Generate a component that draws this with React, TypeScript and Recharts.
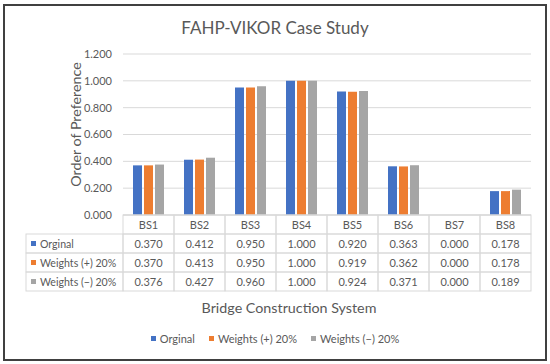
import { BarChart, Bar, XAxis, YAxis, CartesianGrid, Legend } from "recharts";

const categories = ["BS1", "BS2", "BS3", "BS4", "BS5", "BS6", "BS7", "BS8"];
const original = [0.37, 0.412, 0.95, 1.0, 0.92, 0.363, 0.0, 0.178];
const weightsPlus = [0.37, 0.413, 0.95, 1.0, 0.919, 0.362, 0.0, 0.178];
const weightsMinus = [0.376, 0.427, 0.96, 1.0, 0.924, 0.371, 0.0, 0.189];
const seriesNames = ["Orginal", "Weights (+) 20%", "Weights (\u2212) 20%"];
const seriesKeys = ["original", "plus", "minus"];
const seriesColors = ["#4472C4", "#ED7D31", "#A5A5A5"];
const yTicks = [0, 0.2, 0.4, 0.6, 0.8, 1.0, 1.2];

const data = categories.map((name, i) => ({
  name,
  original: original[i],
  plus: weightsPlus[i],
  minus: weightsMinus[i],
}));

const W = 550;
const H = 364;
const FONT = "Lato, sans-serif";
const TEXT = "#595959";
const LINE = "#D9D9D9";
const FS = 11;
const MARGIN = { top: 54, right: 19, bottom: 73, left: 63 };
const Y_W = 60;
const ROW_H = 19;
const TABLE_LEFT = 26;
const COL_W = (W - MARGIN.left - Y_W - MARGIN.right) / categories.length;

// header row of the data table: category names
function HeaderTick(props: any) {
  const { x, y, payload } = props;
  return (
    <g>
      <rect x={x - COL_W / 2} y={y} width={COL_W} height={ROW_H} fill="none" stroke={LINE} />
      <text x={x} y={y + ROW_H / 2} textAnchor="middle" dominantBaseline="central" fontSize={FS} fill={TEXT}>
        {payload.value}
      </text>
    </g>
  );
}

// one data row of the table, with its series key in the first cell
function RowTick(props: any) {
  const { x, y, index, row } = props;
  const value = (data[index] as any)[seriesKeys[row]] as number;
  const left = x - COL_W / 2;
  return (
    <g>
      {index === 0 && (
        <g>
          <rect x={TABLE_LEFT} y={y} width={left - TABLE_LEFT} height={ROW_H} fill="none" stroke={LINE} />
          <rect x={TABLE_LEFT + 5} y={y + ROW_H / 2 - 2.5} width={5} height={5} fill={seriesColors[row]} />
          <text x={TABLE_LEFT + 14} y={y + ROW_H / 2} dominantBaseline="central" fontSize={10.6} fill={TEXT}>
            {seriesNames[row]}
          </text>
        </g>
      )}
      <rect x={left} y={y} width={COL_W} height={ROW_H} fill="none" stroke={LINE} />
      <text x={x} y={y + ROW_H / 2} textAnchor="middle" dominantBaseline="central" fontSize={FS} fill={TEXT}>
        {value.toFixed(3)}
      </text>
    </g>
  );
}

function LegendContent(props: any) {
  const { payload } = props;
  return (
    <div style={{ display: "flex", justifyContent: "center", fontFamily: FONT, fontSize: FS, color: TEXT }}>
      {(payload || []).map((p: any) => (
        <div key={p.value} style={{ display: "flex", alignItems: "center", margin: "0 7px" }}>
          <span style={{ width: 5, height: 5, background: p.color, marginRight: 4, display: "inline-block" }} />
          <span>{p.value}</span>
        </div>
      ))}
    </div>
  );
}

export default function App() {
  return (
    <div style={{ position: "absolute", left: 0, top: 0, width: W, height: H, background: "#fff" }}>
      <div
        style={{
          position: "absolute",
          left: 3,
          top: 4,
          width: 544,
          height: 357,
          border: "2px solid #404040",
          boxSizing: "border-box",
        }}
      />
      <div
        style={{
          position: "absolute",
          top: 17,
          left: 0,
          width: W,
          textAlign: "center",
          fontFamily: FONT,
          fontSize: 17,
          color: TEXT,
          lineHeight: "22px",
        }}
      >
        FAHP-VIKOR Case Study
      </div>
      <div
        style={{
          position: "absolute",
          top: 299,
          left: 289 - 150,
          width: 300,
          textAlign: "center",
          fontFamily: FONT,
          fontSize: 14.3,
          color: TEXT,
          lineHeight: "18px",
        }}
      >
        Bridge Construction System
      </div>
      <BarChart
        width={W}
        height={H}
        data={data}
        margin={MARGIN}
        barCategoryGap={10}
        barGap={2}
        style={{ fontFamily: FONT }}
      >
        <CartesianGrid vertical={false} stroke={LINE} xAxisId="main" />
        <YAxis
          width={Y_W}
          domain={[0, 1.2]}
          ticks={yTicks}
          tickFormatter={(v: number) => v.toFixed(3)}
          tick={{ fontSize: FS, fill: TEXT }}
          tickSize={0}
          tickMargin={11}
          axisLine={false}
          label={{
            content: (p: any) => {
              const vb = p.viewBox;
              const cx = vb.x + 12;
              const cy = vb.y + vb.height / 2 - 10;
              return (
                <text
                  x={cx}
                  y={cy}
                  transform={`rotate(-90 ${cx} ${cy})`}
                  textAnchor="middle"
                  dominantBaseline="central"
                  fontSize={14.3}
                  fill={TEXT}
                >
                  Order of Preference
                </text>
              );
            },
          }}
        />
        <XAxis
          xAxisId="main"
          dataKey="name"
          height={ROW_H}
          interval={0}
          tickSize={0}
          tickMargin={0}
          axisLine={{ stroke: LINE }}
          tickLine={false}
          tick={<HeaderTick />}
        />
        {[0, 1, 2].map((row) => (
          <XAxis
            key={row}
            xAxisId={`row${row}`}
            dataKey="name"
            height={ROW_H}
            interval={0}
            tickSize={0}
            tickMargin={0}
            axisLine={false}
            tickLine={false}
            tick={(p: any) => <RowTick {...p} row={row} />}
          />
        ))}
        <Legend
          verticalAlign="middle"
          align="center"
          wrapperStyle={{ top: 332, left: 0, width: W }}
          content={<LegendContent />}
        />
        {seriesKeys.map((k, i) => (
          <Bar
            key={k}
            xAxisId="main"
            dataKey={k}
            name={seriesNames[i]}
            fill={seriesColors[i]}
            isAnimationActive={false}
          />
        ))}
      </BarChart>
    </div>
  );
}
